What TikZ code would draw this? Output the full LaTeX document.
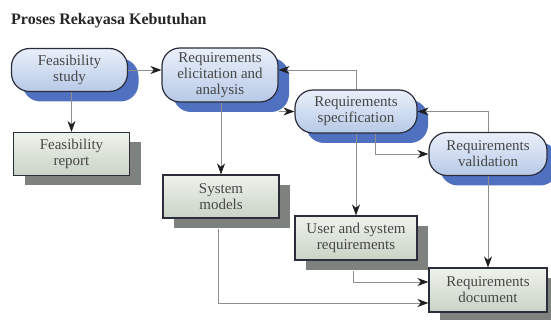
\documentclass[tikz,border=0pt]{standalone}
\usepackage{fontspec}
\setmainfont{Liberation Serif}
\usetikzlibrary{arrows.meta,shadows}
\definecolor{pillfillA}{HTML}{EAF0FA}
\definecolor{pillfillB}{HTML}{B7C9E7}
\definecolor{pillshadow}{HTML}{5070C0}
\definecolor{boxfillA}{HTML}{EEF2EC}
\definecolor{boxfillB}{HTML}{C9D3C5}
\definecolor{boxshadow}{HTML}{7E827E}
\definecolor{edgecol}{HTML}{2B2E3A}
\definecolor{txt}{HTML}{474747}
\definecolor{linecol}{HTML}{8E8E8E}
\definecolor{tipcol}{HTML}{1E1E1E}
\begin{document}
\begin{tikzpicture}[x=1pt,y=-1pt,
  every node/.style={font=\rmfamily\fontsize{15}{16}\selectfont, text=txt, align=center, inner sep=0pt},
  pill/.style={draw=edgecol, line width=1.2pt, rounded corners=18pt,
    top color=pillfillA, bottom color=pillfillB,
    minimum width=116pt, minimum height=43pt,
    drop shadow={shadow xshift=11pt, shadow yshift=-10pt, fill=pillshadow, opacity=1, draw=none}},
  docbox/.style={draw=edgecol, line width=1.2pt,
    top color=boxfillA, bottom color=boxfillB,
    minimum width=116pt, minimum height=43pt,
    drop shadow={shadow xshift=11pt, shadow yshift=-10pt, fill=boxshadow, opacity=1, draw=none}},
  conn/.style={draw=linecol, line width=0.8pt, -{Stealth[length=11pt,width=8pt,inset=3.5pt,color=tipcol]}}
]
\useasboundingbox (0,0) rectangle (551,320);

\node[font=\rmfamily\bfseries\fontsize{16}{18}\selectfont, text=black!85, anchor=base west] (title) at (11,25) {Proses Rekayasa Kebutuhan};

\node[pill] (fs) at (69.5,70) {Feasibility\\study};
\node[pill, minimum height=54pt] (re) at (220,75) {Requirements\\elicitation and\\analysis};
\node[pill, minimum width=122pt] (rs) at (356,111.5) {Requirements\\specification};
\node[pill, minimum width=118pt] (rv) at (488,154) {Requirements\\validation};

\node[docbox] (fr) at (71.5,154) {Feasibility\\report};
\node[docbox] (sm) at (221,196.5) {System\\models};
\node[docbox, minimum width=122pt, minimum height=44pt] (us) at (356,238) {User and system\\requirements};
\node[docbox, minimum width=118pt, minimum height=44pt] (rd) at (488,290) {Requirements\\document};

\draw[conn] (fs.east) -- (re.west |- fs.east);
\draw[conn] (fr.north |- fs.south) -- (fr.north);
\draw[conn] (sm.north |- re.south) -- (sm.north);
\draw[conn] (re.east |- rs.west) -- (rs.west);
\draw[conn] (rs.north) |- ([yshift=5pt]re.east);
\draw[conn] (rs.south) -- (us.north);
\draw[conn] ([xshift=19pt]rs.south) |- (rv.west);
\draw[conn] (rv.north) |- (rs.east);
\draw[conn] (rv.south) -- (rd.north);
\draw[conn] ([xshift=-3pt,yshift=-10pt]us.south) |- ([yshift=8pt]rd.west);
\draw[conn] ([xshift=-3pt,yshift=-10pt]sm.south) |- ([yshift=-13pt]rd.west);
\end{tikzpicture}
\end{document}
